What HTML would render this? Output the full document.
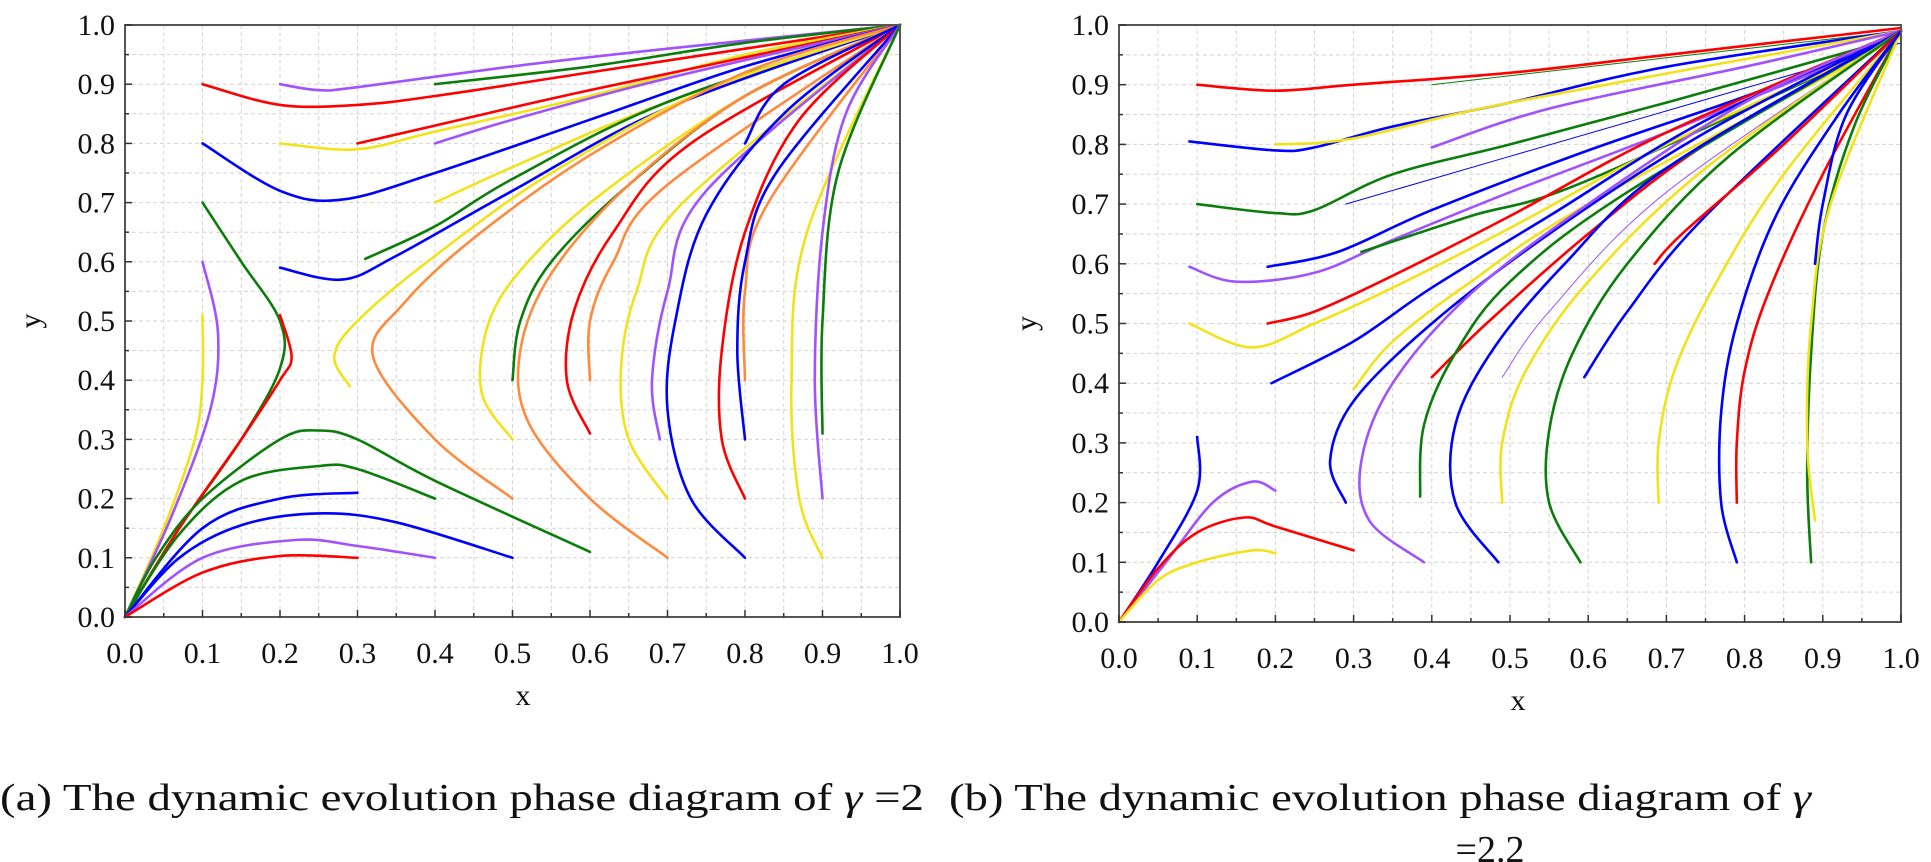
<!DOCTYPE html>
<html><head><meta charset="utf-8"><style>
html,body{margin:0;padding:0;background:#fff;}
svg{display:block;}
text{font-family:"Liberation Serif","Times New Roman",serif;fill:#111;}
</style></head><body>
<svg id="root" width="1931" height="862" viewBox="0 0 1931 862" xmlns="http://www.w3.org/2000/svg" font-family="'Liberation Serif', 'Times New Roman', serif">
<rect width="1931" height="862" fill="#fff"/>
<g id="chartA"></g>
<g id="chartB"></g>
<text x="462" y="810" font-size="38" font-family="'Liberation Serif', serif" text-anchor="middle" textLength="924" lengthAdjust="spacingAndGlyphs">(a) The dynamic evolution phase diagram of  <tspan font-style="italic">γ</tspan> =2</text>
<text x="1380" y="810" font-size="38" font-family="'Liberation Serif', serif" text-anchor="middle" textLength="862" lengthAdjust="spacingAndGlyphs">(b) The dynamic evolution phase diagram of  <tspan font-style="italic">γ</tspan></text>
<text x="1490" y="862" font-size="38" font-family="'Liberation Serif', serif" text-anchor="middle">=2.2</text>
</svg>
<script>
const C = {r:'#ff0000', g:'#0b7d0b', b:'#0000ff', p:'#a052ff', y:'#f2e21a', o:'#ff8a3d'};
const tickValues = [0,0.1,0.2,0.3,0.4,0.5,0.6,0.7,0.8,0.9,1.0];
const tickLabels = ['0.0','0.1','0.2','0.3','0.4','0.5','0.6','0.7','0.8','0.9','1.0'];

const colorsA = ['p','r','g','y','r','p','b','y','g','b','y','o','y','g','o','r','o','y','p','b','r','o','b','b','y','p','g','y','p','g','r','g','g','b','b','p','r'];
const pathsA = [
[[0.2,0.9],[0.25,0.89],[0.3,0.895],[0.5,0.93],[0.7,0.96],[1,1]],
[[0.1,0.9],[0.2,0.865],[0.3,0.865],[0.4,0.88],[0.6,0.92],[0.8,0.96],[1,1]],
[[0.4,0.9],[0.6,0.93],[0.8,0.97],[1,1]],
[[0.2,0.8],[0.3,0.79],[0.4,0.82],[0.6,0.88],[0.8,0.95],[1,1]],
[[0.3,0.8],[0.4,0.83],[0.6,0.89],[1,1]],
[[0.4,0.8],[0.5,0.84],[0.7,0.91],[1,1]],
[[0.1,0.8],[0.2,0.72],[0.28,0.705],[0.4,0.75],[0.6,0.84],[0.8,0.93],[1,1]],
[[0.4,0.7],[0.5,0.76],[0.7,0.87],[1,1]],
[[0.31,0.605],[0.4,0.66],[0.5,0.74],[0.7,0.87],[1,1]],
[[0.2,0.59],[0.28,0.57],[0.35,0.61],[0.5,0.72],[0.7,0.86],[1,1]],
[[0.29,0.39],[0.27,0.44],[0.3,0.5],[0.4,0.61],[0.55,0.75],[0.75,0.89],[1,1]],
[[0.5,0.2],[0.4,0.3],[0.32,0.44],[0.36,0.53],[0.45,0.64],[0.6,0.78],[0.8,0.92],[1,1]],
[[0.5,0.3],[0.46,0.38],[0.47,0.5],[0.52,0.6],[0.62,0.72],[0.8,0.88],[1,1]],
[[0.5,0.4],[0.51,0.5],[0.55,0.6],[0.65,0.73],[0.8,0.88],[1,1]],
[[0.7,0.1],[0.6,0.2],[0.52,0.33],[0.51,0.45],[0.55,0.58],[0.65,0.73],[0.8,0.88],[1,1]],
[[0.6,0.31],[0.57,0.4],[0.58,0.52],[0.63,0.65],[0.73,0.8],[1,1]],
[[0.6,0.4],[0.6,0.5],[0.63,0.6],[0.7,0.73],[1,1]],
[[0.7,0.2],[0.65,0.3],[0.64,0.42],[0.66,0.55],[0.72,0.7],[1,1]],
[[0.69,0.3],[0.68,0.4],[0.7,0.55],[0.75,0.72],[1,1]],
[[0.8,0.1],[0.73,0.2],[0.7,0.35],[0.71,0.5],[0.75,0.68],[0.85,0.85],[1,1]],
[[0.8,0.2],[0.77,0.3],[0.77,0.45],[0.8,0.65],[0.87,0.84],[1,1]],
[[0.8,0.4],[0.8,0.55],[0.83,0.7],[1,1]],
[[0.8,0.3],[0.79,0.45],[0.8,0.6],[0.84,0.75],[1,1]],
[[0.8,0.8],[0.85,0.9],[1,1]],
[[0.9,0.1],[0.87,0.2],[0.86,0.4],[0.88,0.65],[1,1]],
[[0.9,0.2],[0.89,0.4],[0.9,0.65],[0.93,0.85],[1,1]],
[[0.9,0.31],[0.9,0.5],[0.92,0.75],[1,1]],
[[0.1,0.51],[0.1,0.4],[0.09,0.3],[0.05,0.15],[0,0]],
[[0.1,0.6],[0.12,0.48],[0.11,0.35],[0.06,0.17],[0,0]],
[[0.1,0.7],[0.15,0.6],[0.2,0.5],[0.2,0.42],[0.15,0.3],[0.07,0.15],[0,0]],
[[0.2,0.51],[0.215,0.44],[0.2,0.4],[0.15,0.3],[0.07,0.15],[0,0]],
[[0.6,0.11],[0.4,0.23],[0.3,0.3],[0.25,0.315],[0.2,0.3],[0.1,0.2],[0.04,0.1],[0,0]],
[[0.4,0.2],[0.3,0.25],[0.25,0.255],[0.15,0.23],[0.07,0.14],[0,0]],
[[0.3,0.21],[0.2,0.2],[0.1,0.15],[0,0]],
[[0.5,0.1],[0.35,0.16],[0.25,0.175],[0.15,0.155],[0.07,0.1],[0,0]],
[[0.4,0.1],[0.3,0.12],[0.22,0.13],[0.1,0.1],[0,0]],
[[0.3,0.1],[0.2,0.103],[0.1,0.075],[0,0]]
];

const colorsB = ['r','g','b','y','p','g','b','b','p','g','r','y','b','y','b','p','r','g','b','p','y','g','b','y','r','b','r','g','y','b','b','p','r','y'];
const widthsB = [2.6,1,2.6,2.6,2.6,2.6,1,2.6,2.6,2.6,2.6,2.6,2.6,2.6,2.6,2.6,2.6,2.6,2.6,1,2.6,2.6,2.6,2.6,2.6,2.6,2.6,2.6,2.6,2.6,2.6,2.6,2.6,2.6];
const pathsB = [
[[0.1,0.9],[0.2,0.89],[0.3,0.9],[0.5,0.92],[0.7,0.95],[1,0.995]],
[[0.4,0.9],[0.7,0.945],[1,0.99]],
[[0.09,0.805],[0.2,0.79],[0.25,0.795],[0.35,0.83],[0.5,0.87],[0.7,0.93],[1,0.99]],
[[0.2,0.8],[0.3,0.81],[0.5,0.87],[1,0.99]],
[[0.4,0.795],[0.55,0.86],[0.8,0.93],[1,0.99]],
[[0.1,0.7],[0.2,0.685],[0.25,0.69],[0.35,0.75],[0.5,0.8],[0.7,0.87],[1,0.98]],
[[0.29,0.7],[0.5,0.78],[1,0.97]],
[[0.19,0.595],[0.28,0.62],[0.4,0.69],[0.6,0.79],[0.8,0.88],[1,0.98]],
[[0.09,0.595],[0.15,0.57],[0.25,0.585],[0.35,0.64],[0.5,0.72],[0.7,0.82],[1,0.98]],
[[0.31,0.62],[0.45,0.68],[0.6,0.74],[1,0.98]],
[[0.19,0.5],[0.25,0.52],[0.35,0.58],[0.5,0.68],[0.7,0.82],[1,0.99]],
[[0.09,0.5],[0.17,0.46],[0.25,0.5],[0.35,0.56],[0.5,0.66],[0.7,0.8],[1,0.98]],
[[0.195,0.4],[0.3,0.47],[0.4,0.56],[0.55,0.68],[0.75,0.84],[1,0.99]],
[[0.3,0.39],[0.35,0.47],[0.45,0.57],[0.6,0.7],[1,0.98]],
[[0.29,0.2],[0.27,0.27],[0.3,0.37],[0.4,0.5],[0.55,0.65],[0.75,0.82],[1,0.99]],
[[0.39,0.1],[0.32,0.17],[0.31,0.27],[0.35,0.4],[0.45,0.55],[0.6,0.7],[0.8,0.87],[1,0.99]],
[[0.4,0.41],[0.47,0.5],[0.6,0.65],[0.75,0.8],[1,0.99]],
[[0.385,0.21],[0.39,0.33],[0.43,0.45],[0.5,0.57],[0.65,0.72],[1,0.99]],
[[0.485,0.1],[0.43,0.2],[0.43,0.33],[0.48,0.46],[0.57,0.6],[0.7,0.76],[1,0.99]],
[[0.49,0.41],[0.55,0.52],[0.7,0.72],[1,0.99]],
[[0.49,0.2],[0.49,0.3],[0.52,0.42],[0.6,0.57],[0.75,0.76],[1,0.99]],
[[0.59,0.1],[0.55,0.2],[0.55,0.32],[0.58,0.45],[0.65,0.6],[0.78,0.78],[1,0.99]],
[[0.595,0.41],[0.65,0.52],[0.75,0.68],[1,0.99]],
[[0.69,0.2],[0.69,0.3],[0.71,0.42],[0.76,0.56],[0.85,0.75],[1,0.99]],
[[0.685,0.6],[0.72,0.65],[0.85,0.8],[1,0.99]],
[[0.79,0.1],[0.77,0.2],[0.77,0.35],[0.79,0.5],[0.84,0.68],[0.92,0.85],[1,0.99]],
[[0.79,0.2],[0.79,0.3],[0.8,0.42],[0.83,0.55],[0.9,0.75],[1,0.99]],
[[0.885,0.1],[0.88,0.25],[0.885,0.45],[0.9,0.65],[0.94,0.83],[1,0.99]],
[[0.89,0.17],[0.88,0.3],[0.885,0.5],[0.91,0.7],[1,0.99]],
[[0.89,0.6],[0.9,0.7],[0.93,0.85],[1,0.99]],
[[0.1,0.31],[0.1,0.22],[0.05,0.1],[0,0]],
[[0.2,0.22],[0.17,0.235],[0.12,0.2],[0.06,0.1],[0,0]],
[[0.3,0.12],[0.2,0.16],[0.16,0.175],[0.1,0.15],[0.05,0.09],[0,0]],
[[0.2,0.115],[0.17,0.12],[0.1,0.1],[0.05,0.07],[0,0]]
];

const NS='http://www.w3.org/2000/svg';
const FONT="'Liberation Serif', 'Times New Roman', serif";
function mk(tag, attrs, parent){const e=document.createElementNS(NS,tag);for(const k in attrs)e.setAttribute(k,attrs[k]);parent.appendChild(e);return e;}

function smooth(pts){
  let d='M'+pts[0][0].toFixed(1)+','+pts[0][1].toFixed(1);
  for(let i=0;i<pts.length-1;i++){
    const p0=pts[Math.max(0,i-1)],p1=pts[i],p2=pts[i+1],p3=pts[Math.min(pts.length-1,i+2)];
    const c1=[p1[0]+(p2[0]-p0[0])/6,p1[1]+(p2[1]-p0[1])/6];
    const c2=[p2[0]-(p3[0]-p1[0])/6,p2[1]-(p3[1]-p1[1])/6];
    d+=' C'+c1[0].toFixed(1)+','+c1[1].toFixed(1)+' '+c2[0].toFixed(1)+','+c2[1].toFixed(1)+' '+p2[0].toFixed(1)+','+p2[1].toFixed(1);
  }
  return d;
}

function drawChart(g, x0, x1, y0, y1, colors, paths, widths, xlabX, ylabX){
  const X=v=>x0+(x1-x0)*v, Y=v=>y0-(y0-y1)*v;
  const grid=mk('g',{},g);
  
  
  for(let i=1;i<20;i++){
    const v=i/20;
    mk('line',{x1:X(v),x2:X(v),y1:Y(0),y2:Y(1),stroke:'#d4d4d4','stroke-width':1,'stroke-dasharray':'4,3'},grid);
    mk('line',{x1:X(0),x2:X(1),y1:Y(v),y2:Y(v),stroke:'#d4d4d4','stroke-width':1,'stroke-dasharray':'4,3'},grid);
  }
  const curves=mk('g',{fill:'none','stroke-linecap':'round','stroke-linejoin':'round'},g);
  
  
  paths.forEach((pts,i)=>{
    const px=pts.map(p=>[X(p[0]),Y(p[1])]);
    const el=mk('path',{d:smooth(px),stroke:C[colors[i]],'stroke-width':widths?widths[i]:2.6},curves);
    
    
  });
  const frame=mk('rect',{x:X(0),y:Y(1),width:X(1)-X(0),height:Y(0)-Y(1),fill:'none',stroke:'#555','stroke-width':2},g);
  
  
  for(let i=0;i<=20;i++){
    const v=i/20, L=i%2?4:7;
    mk('line',{x1:X(v),x2:X(v),y1:Y(0),y2:Y(0)-L,stroke:'#333','stroke-width':1.5},g);
    mk('line',{x1:X(0),x2:X(0)+L,y1:Y(v),y2:Y(v),stroke:'#333','stroke-width':1.5},g);
  }
  tickValues.forEach((v,i)=>{
    const tx=mk('text',{x:X(v),y:Y(0)+46,'font-size':30,'font-family':FONT,'text-anchor':'middle'},g);
    tx.textContent=tickLabels[i];
    
    
    const ty=mk('text',{x:X(0)-10,y:Y(v)+10,'font-size':30,'font-family':FONT,'text-anchor':'end'},g);
    ty.textContent=tickLabels[i];
    
    
  });
  const xl=mk('text',{x:xlabX,y:Y(0)+88,'font-size':30,'font-family':FONT,'text-anchor':'middle'},g);
  xl.textContent='x';
  
  
  const yl=mk('text',{x:ylabX,y:(Y(0)+Y(1))/2,'font-size':30,'font-family':FONT,'text-anchor':'middle',transform:'rotate(-90 '+ylabX+' '+((Y(0)+Y(1))/2)+')'},g);
  yl.textContent='y';
  
  
}
drawChart(document.getElementById('chartA'),125,900,617,25,colorsA,pathsA,null,523,40);
drawChart(document.getElementById('chartB'),1119,1901,622,25,colorsB,pathsB,widthsB,1518,1036);
</script>
</body></html>
